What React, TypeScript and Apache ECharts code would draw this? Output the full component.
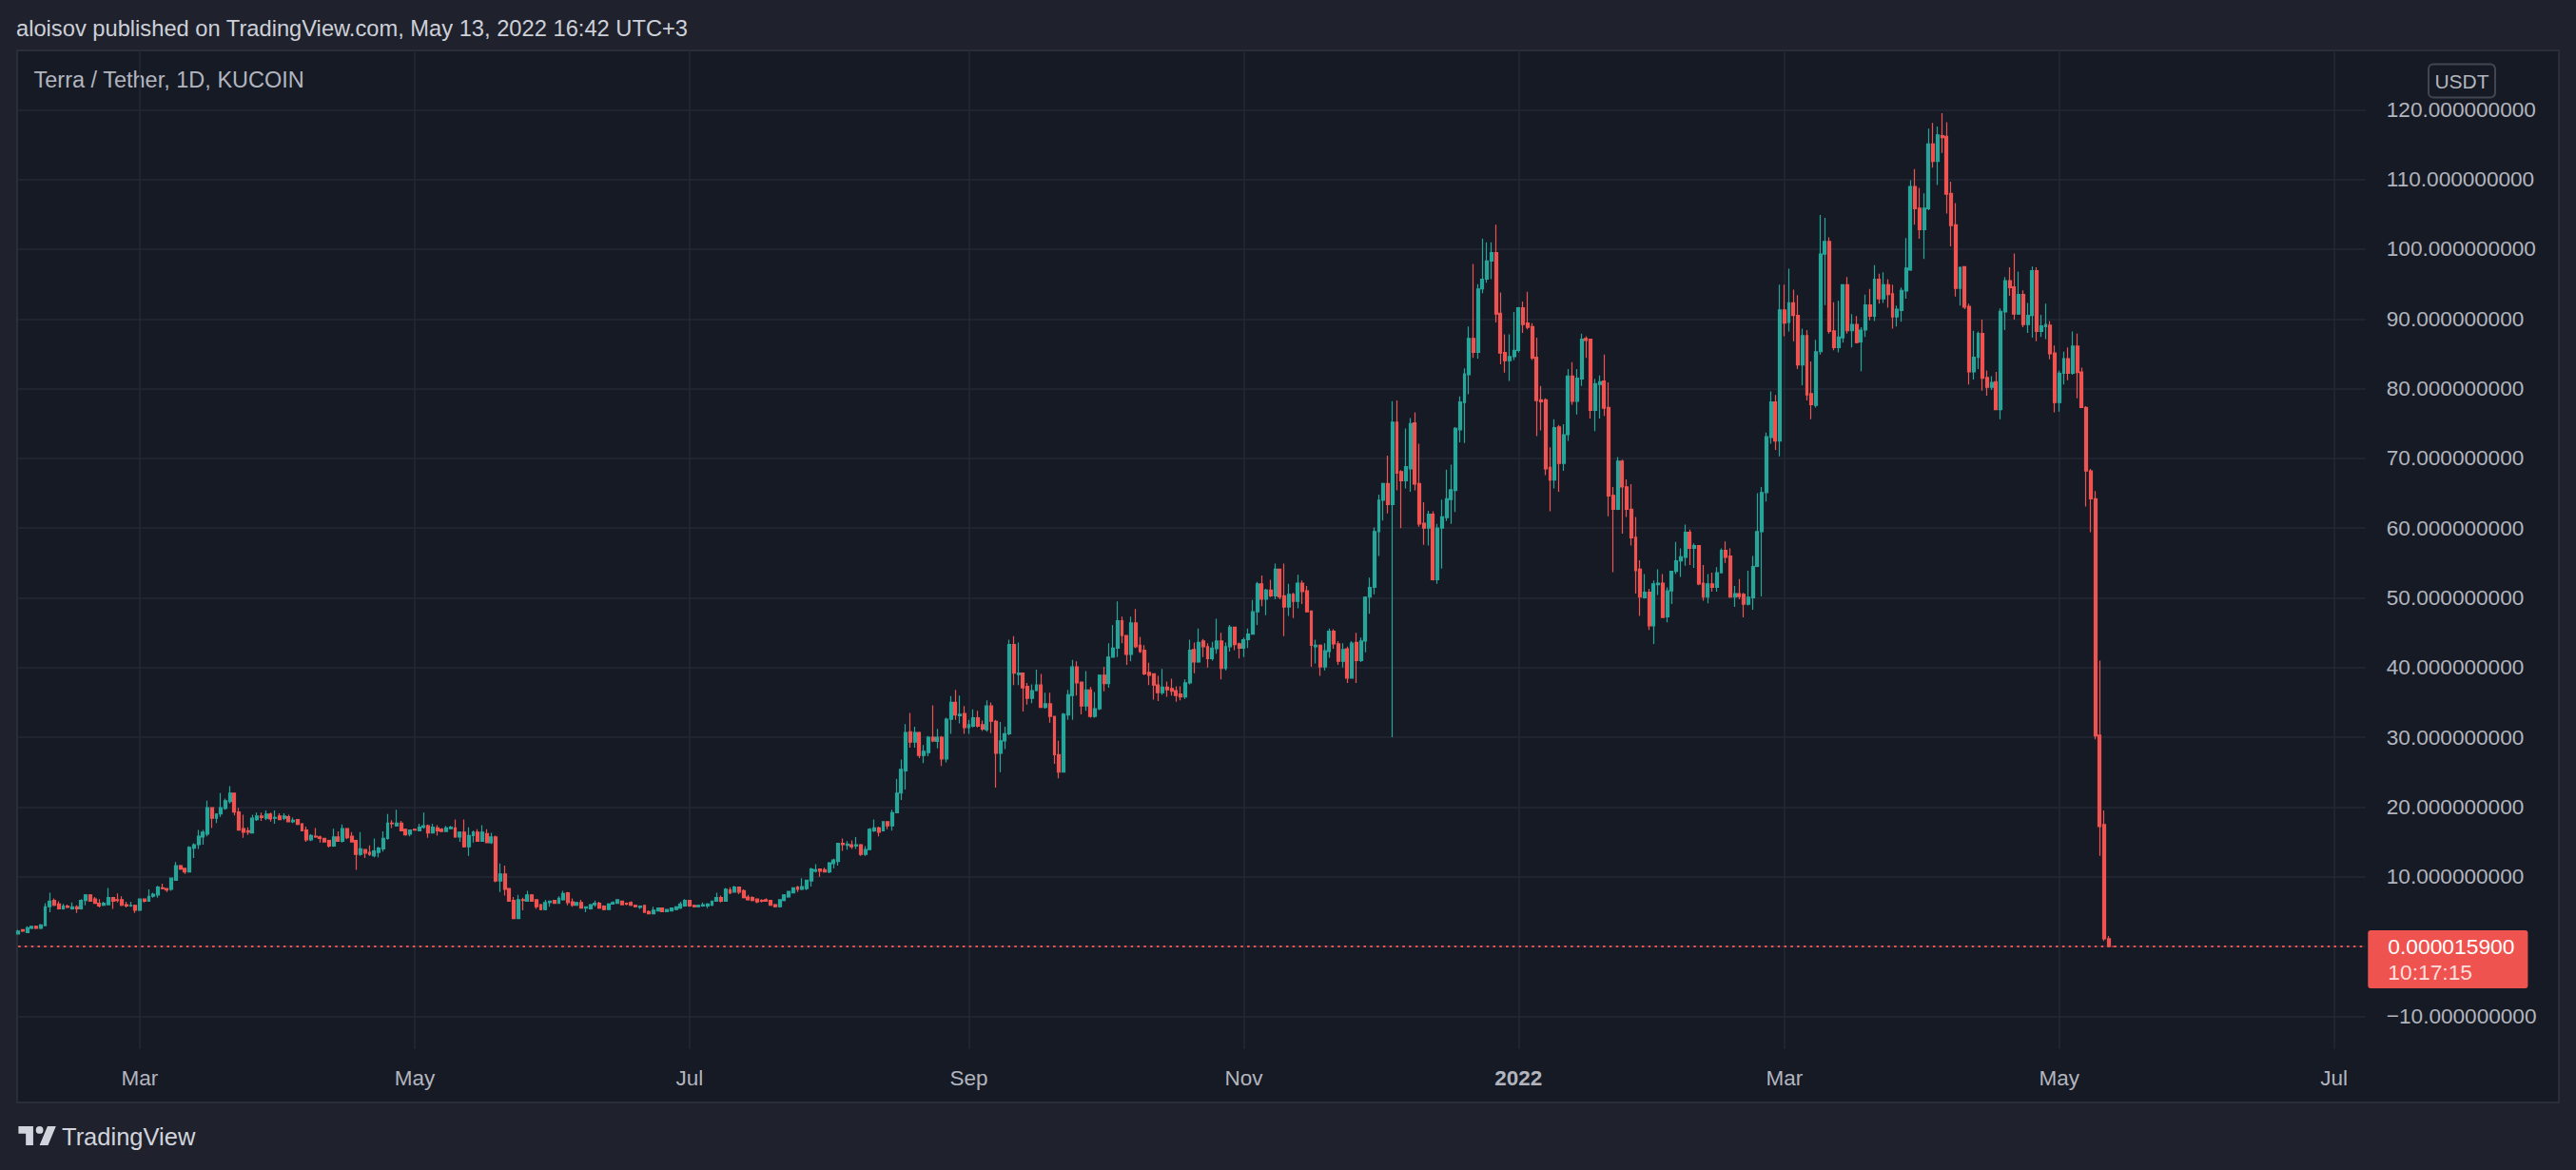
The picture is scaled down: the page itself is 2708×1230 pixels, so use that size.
import React, { useEffect, useRef } from "react";
import * as echarts from "echarts";

// Daily candles, each row is [open, high, low, close] (USDT)
const FEB_2021 = [
  [1.8, 2.4, 1.7, 2.2], [2.4, 2.5, 2.1, 2.2], [2.0, 2.9, 1.9, 2.7], [2.6, 2.9, 2.5, 2.9], [2.9, 3.0, 2.5, 2.6],
  [2.6, 3.2, 2.5, 3.1], [3.0, 6.2, 2.9, 5.7], [5.7, 7.7, 4.9, 6.5], [6.6, 6.9, 5.8, 5.9], [6.1, 6.5, 5.3, 5.4],
  [5.4, 6.1, 5.3, 5.8], [5.8, 6.0, 5.5, 5.6], [5.4, 6.3, 5.3, 5.7], [5.7, 5.9, 4.8, 5.4], [5.4, 6.8, 5.3, 6.6],
  [6.6, 7.5, 5.9, 7.4], [7.4, 7.5, 6.4, 6.5], [6.8, 7.1, 6.1, 6.2], [6.2, 6.8, 5.6, 5.8], [5.9, 6.4, 5.8, 6.2],
  [6.0, 8.4, 5.9, 7.0], [7.0, 7.1, 5.4, 6.5], [6.7, 7.6, 6.3, 6.6], [6.7, 7.2, 5.8, 5.9], [6.0, 6.4, 5.6, 5.8],
  [5.8, 6.4, 5.7, 5.9], [5.9, 6.0, 4.8, 5.2],
];
const MAR_2021 = [
  [5.2, 6.9, 5.1, 6.8], [6.8, 6.9, 6.3, 6.5], [6.5, 8.2, 6.4, 7.2], [7.2, 7.7, 7.0, 7.5], [7.4, 8.7, 7.0, 8.5],
  [8.4, 9.0, 8.2, 8.3], [8.3, 8.4, 7.8, 8.1], [8.2, 9.9, 8.0, 9.8], [9.5, 12.1, 9.4, 11.6], [11.6, 11.7, 11.0, 11.1],
  [11.2, 11.3, 10.4, 10.7], [10.7, 14.4, 10.6, 14.2], [14.1, 14.8, 12.7, 14.6], [14.6, 16.7, 14.0, 15.8], [15.7, 16.7, 14.6, 16.4],
  [16.1, 20.9, 15.8, 19.9], [19.9, 20.0, 17.0, 18.4], [18.4, 19.1, 17.7, 19.0], [19.0, 22.0, 18.6, 19.9], [19.8, 21.2, 19.6, 20.9],
  [20.8, 23.0, 20.5, 22.0], [22.0, 22.0, 18.8, 19.3], [19.3, 19.9, 16.6, 16.7], [16.9, 18.9, 15.6, 16.4], [16.6, 17.1, 16.0, 16.4],
  [16.3, 18.9, 16.2, 18.4], [18.2, 19.2, 18.0, 18.7], [18.7, 19.2, 18.0, 18.5], [18.4, 19.5, 18.1, 19.0], [19.0, 19.2, 17.9, 18.3],
  [18.4, 19.5, 17.6, 18.5],
];
const APR_2021 = [
  [18.7, 19.1, 18.1, 18.2], [18.4, 19.1, 18.1, 18.7], [18.6, 18.9, 17.8, 17.9], [17.9, 18.5, 17.7, 18.1], [18.2, 18.3, 17.4, 17.5],
  [17.6, 17.7, 16.5, 16.6], [16.7, 17.2, 15.0, 15.3], [15.3, 16.1, 15.1, 15.9], [15.8, 17.0, 15.6, 15.7], [15.7, 15.9, 14.9, 15.5],
  [15.5, 15.6, 14.9, 15.0], [15.2, 15.3, 14.2, 14.4], [14.4, 16.9, 14.3, 15.7], [15.7, 16.5, 15.0, 15.1], [15.1, 17.5, 14.9, 16.9],
  [16.9, 17.0, 15.4, 15.6], [15.8, 16.4, 14.9, 15.0], [15.2, 15.3, 11.0, 13.2], [13.2, 16.4, 13.0, 14.0], [13.9, 14.0, 12.7, 13.4],
  [13.5, 14.5, 13.0, 13.2], [13.0, 15.5, 12.8, 13.7], [13.5, 14.3, 12.8, 14.1], [14.0, 16.5, 13.6, 15.5], [15.5, 19.0, 15.3, 17.7],
  [17.7, 18.1, 17.0, 17.6], [17.3, 19.6, 17.2, 17.7], [17.7, 18.0, 16.5, 16.6], [16.8, 16.9, 15.9, 16.0], [16.1, 16.7, 15.8, 16.7],
];
const MAY_2021 = [
  [16.8, 16.9, 16.6, 16.7], [16.6, 17.6, 16.5, 17.1], [17.1, 19.2, 16.9, 17.3], [17.3, 17.5, 15.6, 16.3], [16.3, 17.6, 16.2, 17.1],
  [17.0, 17.4, 15.9, 16.6], [16.8, 17.0, 16.4, 16.5], [16.5, 17.3, 16.4, 17.0], [16.9, 17.3, 16.8, 17.1], [17.0, 18.2, 15.6, 15.7],
  [15.7, 16.5, 15.0, 16.4], [16.4, 18.2, 14.2, 14.3], [14.3, 17.1, 13.0, 15.9], [15.9, 16.6, 14.9, 16.4], [16.4, 16.8, 15.1, 15.1],
  [15.1, 17.4, 15.0, 16.4], [16.2, 16.8, 14.8, 14.9], [14.9, 16.3, 14.7, 15.7], [15.7, 15.9, 9.2, 9.4], [9.4, 11.9, 7.8, 10.4],
  [10.4, 11.6, 7.3, 8.2], [8.3, 8.4, 6.5, 6.5], [6.6, 7.1, 4.0, 4.0], [4.0, 7.4, 4.0, 6.7], [6.7, 7.0, 5.2, 6.6],
  [6.5, 8.0, 6.4, 7.4], [7.4, 7.5, 6.4, 6.5], [6.7, 6.8, 5.4, 5.7], [6.0, 6.1, 5.2, 5.3], [5.3, 6.7, 5.2, 6.3],
  [6.3, 6.6, 5.7, 6.5],
];
const JUN_2021 = [
  [6.6, 6.7, 6.1, 6.2], [6.2, 7.2, 6.1, 6.9], [6.7, 8.0, 6.6, 7.6], [7.7, 7.8, 5.9, 6.3], [6.4, 6.9, 5.7, 5.9],
  [5.9, 6.4, 5.8, 6.3], [6.3, 6.7, 5.5, 5.5], [5.5, 5.7, 4.9, 5.7], [5.4, 6.1, 5.3, 6.0], [6.0, 6.6, 5.7, 6.2],
  [6.2, 6.4, 5.4, 5.5], [5.8, 5.9, 5.2, 5.3], [5.3, 6.2, 5.3, 6.1], [6.1, 6.5, 6.0, 6.3], [6.2, 6.8, 6.1, 6.7],
  [6.5, 6.6, 6.0, 6.0], [6.2, 6.3, 5.9, 6.1], [6.3, 6.5, 5.8, 5.9], [5.9, 6.0, 5.6, 5.7], [5.6, 5.9, 5.4, 5.8],
  [5.9, 5.9, 4.8, 4.9], [5.0, 5.2, 4.6, 4.7], [4.7, 5.7, 4.7, 5.2], [5.1, 5.6, 5.0, 5.5], [5.5, 5.6, 4.9, 5.0],
  [5.0, 5.4, 4.9, 5.3], [5.1, 5.6, 5.0, 5.5], [5.3, 5.8, 5.2, 5.7], [5.5, 6.4, 5.4, 6.1], [5.8, 6.8, 5.7, 6.6],
];
const JUL_2021 = [
  [6.6, 6.6, 5.7, 5.8], [5.9, 6.0, 5.6, 5.7], [5.7, 6.0, 5.6, 5.9], [5.8, 6.3, 5.7, 6.0], [5.8, 6.2, 5.5, 6.1],
  [5.9, 6.5, 5.8, 6.5], [6.5, 7.7, 6.4, 7.0], [7.0, 7.3, 6.3, 6.5], [6.5, 8.4, 6.4, 8.2], [8.1, 8.5, 7.5, 7.7],
  [7.8, 8.7, 7.7, 8.5], [8.5, 8.6, 7.5, 7.8], [8.0, 8.2, 6.9, 7.0], [7.1, 7.4, 6.6, 6.7], [7.0, 7.2, 6.5, 6.6],
  [6.8, 6.9, 6.2, 6.4], [6.6, 6.8, 6.3, 6.5], [6.7, 6.9, 6.4, 6.5], [6.6, 6.6, 5.9, 5.9], [6.0, 6.1, 5.6, 5.7],
  [5.7, 6.8, 5.6, 6.7], [6.6, 7.5, 6.5, 7.4], [7.1, 8.0, 7.0, 7.9], [7.7, 8.5, 7.6, 8.4], [8.5, 8.7, 7.8, 8.2],
  [8.2, 9.8, 8.1, 8.6], [8.3, 9.6, 8.1, 9.5], [9.4, 11.3, 8.6, 11.1], [10.8, 11.8, 10.6, 11.0], [11.1, 11.2, 10.0, 10.8],
  [11.0, 11.3, 10.6, 10.7],
];
const AUG_2021 = [
  [10.7, 12.1, 10.5, 12.0], [11.9, 12.6, 11.2, 12.4], [12.2, 14.8, 11.6, 14.8], [14.8, 15.5, 13.7, 14.6], [14.5, 15.1, 13.9, 14.7],
  [14.6, 15.2, 14.0, 14.3], [14.4, 15.7, 14.0, 14.6], [14.6, 14.7, 13.0, 13.2], [13.2, 14.4, 13.0, 13.9], [13.9, 17.0, 13.8, 16.8],
  [16.6, 18.2, 16.4, 17.0], [17.0, 17.2, 15.8, 16.4], [16.6, 17.9, 16.5, 17.9], [17.9, 17.9, 16.8, 17.3], [17.3, 19.6, 16.6, 19.2],
  [19.2, 24.0, 19.1, 22.0], [22.0, 26.8, 21.0, 25.4], [25.2, 31.9, 22.5, 30.7], [30.8, 33.5, 28.5, 29.3], [29.3, 31.5, 28.5, 30.7],
  [30.7, 30.8, 27.0, 27.4], [27.4, 28.9, 26.3, 28.0], [27.8, 30.2, 27.3, 30.0], [30.0, 34.6, 29.3, 29.5], [29.4, 31.2, 28.4, 30.0],
  [30.0, 30.2, 25.9, 26.9], [26.9, 32.8, 26.4, 32.6], [32.6, 35.9, 30.5, 35.0], [35.0, 36.8, 32.5, 33.2], [33.1, 36.0, 32.0, 33.3],
  [33.4, 34.5, 30.5, 31.4],
];
const SEP_2021 = [
  [31.4, 32.5, 30.5, 31.8], [31.6, 34.0, 31.4, 32.8], [32.8, 33.8, 31.4, 31.6], [31.8, 32.4, 30.9, 31.2], [31.1, 35.3, 30.8, 34.5],
  [34.5, 35.0, 30.6, 32.3], [32.3, 32.5, 22.8, 27.7], [27.7, 32.2, 25.0, 29.5], [29.5, 31.5, 28.3, 30.5], [30.5, 44.0, 30.3, 43.3],
  [43.3, 44.5, 37.5, 39.2], [39.0, 43.6, 37.5, 39.2], [39.2, 39.3, 33.7, 37.1], [37.3, 37.8, 34.7, 35.6], [35.6, 37.6, 34.9, 36.7],
  [36.7, 39.7, 36.6, 37.5], [37.5, 39.1, 34.2, 34.3], [34.3, 36.4, 34.1, 34.8], [34.8, 36.4, 32.1, 33.0], [33.0, 33.0, 26.2, 27.5],
  [27.5, 29.5, 24.1, 25.0], [25.0, 33.5, 25.0, 33.3], [33.2, 36.8, 32.5, 36.1], [36.0, 41.1, 32.5, 40.1], [40.1, 40.9, 36.0, 37.8],
  [37.9, 37.9, 33.3, 34.5], [34.5, 39.5, 33.8, 36.8], [36.8, 37.2, 32.8, 33.0], [33.0, 36.5, 32.8, 34.1], [34.1, 39.0, 33.9, 38.9],
];
const OCT_2021 = [
  [38.9, 40.1, 36.6, 37.7], [37.7, 43.5, 37.1, 41.5], [41.5, 46.1, 41.4, 42.8], [42.8, 49.5, 41.5, 46.7], [46.7, 47.3, 43.5, 44.6],
  [44.6, 44.6, 40.4, 41.9], [41.9, 47.3, 40.9, 46.4], [46.4, 48.4, 42.8, 43.0], [43.2, 44.4, 42.1, 42.3], [42.5, 43.2, 38.9, 39.1],
  [39.3, 40.7, 37.5, 38.9], [39.1, 39.1, 35.4, 37.5], [37.5, 38.8, 35.2, 36.4], [36.4, 39.8, 36.1, 37.2], [37.2, 38.0, 35.8, 36.8],
  [37.0, 38.4, 36.0, 36.6], [36.7, 37.3, 35.1, 36.0], [36.2, 37.3, 35.3, 35.8], [35.8, 38.3, 35.5, 37.8], [37.8, 44.0, 37.6, 42.5],
  [42.6, 43.6, 39.2, 40.8], [40.8, 45.6, 40.7, 43.6], [43.8, 44.1, 41.5, 43.0], [43.0, 43.5, 40.0, 41.3], [41.3, 43.7, 41.0, 42.8],
  [42.7, 47.0, 42.0, 43.8], [43.8, 45.0, 38.3, 39.9], [39.9, 43.6, 39.6, 43.0], [43.0, 46.1, 42.3, 45.8], [45.8, 45.8, 42.5, 43.3],
  [43.4, 43.6, 41.3, 42.8],
];
const NOV_2021 = [
  [42.8, 44.3, 41.5, 44.0], [44.0, 45.6, 42.8, 44.8], [44.8, 49.7, 44.7, 48.0], [48.0, 52.3, 46.1, 52.0], [52.0, 53.2, 48.8, 49.8],
  [49.8, 51.3, 47.5, 51.1], [51.1, 52.6, 50.1, 50.3], [50.3, 54.9, 49.8, 54.1], [54.1, 54.1, 49.8, 50.1], [50.3, 54.9, 44.5, 48.7],
  [48.7, 52.0, 47.4, 50.5], [50.5, 50.7, 47.1, 49.5], [49.5, 53.3, 48.5, 52.1], [52.1, 52.5, 49.1, 50.9], [51.0, 51.7, 48.0, 48.0],
  [48.1, 48.1, 40.1, 43.2], [43.0, 44.0, 40.6, 43.2], [43.2, 43.3, 38.8, 40.1], [40.1, 43.5, 39.6, 42.4], [42.3, 45.6, 41.4, 45.2],
  [45.2, 45.5, 42.7, 43.4], [43.4, 43.8, 40.4, 40.9], [40.9, 43.5, 40.0, 42.6], [42.7, 43.0, 37.8, 38.5], [38.5, 43.8, 38.5, 43.5],
  [43.6, 45.0, 37.8, 41.0], [41.0, 44.3, 40.8, 43.8], [43.8, 50.2, 42.2, 50.1], [50.1, 52.9, 47.7, 51.5], [51.5, 60.1, 50.5, 59.5],
];
const DEC_2021 = [
  [59.5, 64.8, 56.0, 64.0], [64.0, 66.5, 61.1, 66.4], [66.4, 70.4, 62.1, 63.4], [63.4, 78.2, 30.0, 75.2], [75.2, 78.3, 65.4, 67.9],
  [68.1, 68.3, 60.0, 66.8], [66.8, 74.3, 65.7, 68.8], [68.5, 75.8, 65.2, 75.0], [75.1, 76.6, 65.4, 66.3], [66.4, 72.1, 60.2, 60.6],
  [60.7, 63.7, 57.6, 60.0], [60.0, 62.5, 57.5, 62.0], [62.0, 62.4, 52.5, 52.6], [52.6, 60.6, 52.0, 60.0], [60.0, 64.1, 54.2, 61.6],
  [61.5, 68.4, 61.0, 64.2], [64.1, 69.1, 60.6, 65.5], [65.4, 74.5, 62.3, 74.3], [74.1, 78.9, 72.3, 78.1], [78.0, 82.9, 72.2, 82.1],
  [82.0, 88.9, 79.2, 87.2], [87.2, 97.9, 84.4, 85.2], [85.2, 95.0, 84.3, 94.3], [94.3, 101.5, 93.7, 95.7], [95.7, 101.0, 95.2, 98.3],
  [98.3, 101.0, 95.7, 99.5], [99.5, 103.5, 89.5, 90.7], [90.8, 93.8, 83.5, 85.1], [85.2, 87.8, 82.3, 84.0], [84.0, 87.8, 81.1, 84.6],
  [84.6, 91.0, 84.1, 85.5],
];
const JAN_2022 = [
  [85.5, 91.7, 85.2, 91.6], [91.6, 92.5, 88.0, 89.2], [89.4, 93.9, 88.5, 88.8], [88.9, 89.4, 84.1, 84.4], [84.5, 87.3, 73.2, 78.3],
  [78.4, 80.4, 74.0, 78.1], [78.4, 78.6, 67.6, 68.5], [68.7, 71.6, 62.4, 66.9], [66.9, 75.6, 65.7, 74.4], [74.5, 74.8, 65.2, 69.3],
  [69.3, 74.9, 68.2, 73.4], [73.4, 82.8, 72.5, 81.8], [81.8, 83.8, 77.7, 78.2], [78.2, 82.8, 76.3, 81.5], [81.4, 87.9, 80.4, 87.1],
  [87.2, 87.5, 84.4, 86.9], [87.1, 87.1, 75.7, 76.9], [76.9, 81.4, 73.9, 80.7], [80.6, 81.9, 75.7, 81.0], [81.1, 84.9, 76.1, 77.2],
  [77.3, 80.9, 61.7, 64.6], [64.7, 65.9, 53.7, 62.7], [62.7, 70.2, 62.6, 69.6], [69.6, 69.8, 59.2, 65.9], [65.9, 67.0, 61.6, 62.7],
  [62.7, 66.3, 57.5, 58.6], [58.7, 61.6, 50.6, 53.9], [54.1, 55.4, 47.4, 50.1], [50.0, 53.4, 49.9, 50.8], [50.8, 51.3, 45.4, 46.0],
  [46.0, 52.5, 43.4, 52.0],
];
const FEB_2022 = [
  [51.9, 54.1, 50.4, 52.1], [52.1, 53.4, 47.1, 47.2], [47.3, 51.5, 46.5, 51.0], [51.0, 53.8, 49.1, 53.8], [53.8, 58.0, 53.4, 55.3],
  [55.3, 57.1, 53.0, 55.9], [55.8, 60.5, 54.6, 59.4], [59.4, 59.8, 54.7, 57.1], [57.1, 57.8, 54.3, 57.5], [57.5, 57.5, 51.8, 52.0],
  [52.1, 54.7, 49.6, 50.1], [50.1, 53.4, 49.2, 52.0], [52.0, 53.6, 50.9, 51.5], [51.5, 54.4, 50.9, 53.6], [53.6, 57.1, 53.5, 56.8],
  [56.8, 58.1, 55.0, 55.8], [56.0, 57.1, 50.0, 50.1], [50.1, 51.7, 48.7, 50.6], [50.6, 52.7, 49.8, 50.2], [50.5, 50.7, 47.2, 49.1],
  [49.1, 53.9, 48.9, 50.1], [50.0, 56.0, 48.3, 54.5], [54.5, 65.0, 54.4, 59.5], [59.5, 65.9, 50.2, 65.1], [65.1, 73.7, 63.8, 73.1],
  [73.0, 79.6, 72.1, 78.1], [78.1, 79.1, 71.2, 72.5], [72.5, 94.9, 70.3, 91.3],
];
const MAR_2022 = [
  [91.3, 94.9, 87.5, 89.4], [89.5, 97.2, 88.2, 92.3], [92.3, 94.2, 86.8, 90.5], [90.5, 93.4, 82.8, 83.4], [83.4, 88.6, 80.5, 87.6],
  [87.6, 88.4, 78.3, 79.1], [79.3, 83.9, 75.6, 77.7], [77.6, 87.0, 77.3, 85.3], [85.3, 104.9, 84.9, 99.3], [99.3, 104.5, 92.0, 101.1],
  [101.1, 101.7, 87.9, 88.2], [88.3, 92.4, 85.5, 85.9], [85.9, 92.6, 85.2, 87.4], [87.3, 94.9, 86.6, 94.9], [94.9, 96.0, 87.9, 88.3],
  [88.3, 90.7, 85.9, 89.2], [89.2, 90.4, 86.5, 86.6], [86.7, 88.8, 82.5, 88.4], [88.4, 93.5, 87.4, 92.0], [92.0, 94.3, 89.8, 90.4],
  [90.4, 97.7, 89.7, 95.7], [95.7, 96.5, 92.2, 92.9], [92.9, 96.7, 92.3, 94.9], [94.9, 95.7, 91.6, 93.5], [93.6, 94.9, 88.6, 90.3],
  [90.3, 91.9, 88.9, 91.4], [91.2, 94.5, 89.6, 94.1], [94.0, 101.6, 92.9, 97.3], [97.0, 109.9, 96.9, 109.0], [109.0, 111.5, 103.5, 105.8],
  [105.9, 108.8, 101.5, 102.8],
];
const APR_2022 = [
  [102.8, 108.0, 98.6, 105.9], [105.8, 117.3, 105.6, 115.1], [115.1, 118.1, 111.7, 112.6], [112.6, 117.6, 109.2, 116.4], [116.3, 119.5, 113.8, 116.0],
  [116.2, 118.2, 105.1, 107.9], [108.0, 109.7, 100.4, 103.4], [103.5, 106.6, 93.2, 94.4], [94.4, 97.5, 91.9, 97.4], [97.5, 97.5, 91.4, 91.7],
  [91.8, 92.2, 80.6, 82.4], [82.4, 88.3, 81.3, 84.5], [84.5, 88.2, 82.8, 87.9], [87.9, 89.9, 79.7, 81.5], [81.6, 82.6, 79.0, 80.2],
  [80.2, 81.8, 79.8, 80.9], [81.0, 82.4, 77.0, 77.0], [77.0, 91.5, 75.6, 91.1], [91.0, 96.0, 88.4, 95.5], [95.5, 97.4, 93.3, 94.5],
  [94.6, 99.4, 89.9, 90.7], [90.7, 96.8, 90.6, 93.5], [93.5, 94.1, 88.8, 89.2], [89.2, 92.3, 88.0, 90.5], [90.5, 97.5, 87.3, 96.9],
  [96.9, 97.4, 86.8, 88.2], [88.2, 90.6, 87.4, 89.0], [88.9, 92.2, 87.1, 89.2], [89.1, 89.7, 84.2, 85.0], [85.1, 86.2, 76.6, 78.0],
];
const MAY_2022 = [
  [78.0, 82.6, 76.7, 82.2], [82.2, 85.3, 80.6, 84.3], [84.3, 85.9, 81.2, 82.2], [82.2, 88.2, 82.0, 86.1], [86.1, 87.9, 78.6, 82.3],
  [82.4, 83.0, 77.3, 77.3], [77.3, 77.5, 63.1, 68.2], [68.2, 68.5, 59.4, 64.2], [64.2, 65.3, 29.7, 30.2], [30.3, 41.0, 13.0, 17.2],
  [17.5, 19.5, 0.8, 1.1], [1.1, 1.5, 0.00001, 0.00003], [0.00003, 0.0001, 0.00001, 0.0000159],
];

const MONTHLY_CANDLES = [
  FEB_2021, MAR_2021, APR_2021, MAY_2021, JUN_2021, JUL_2021, AUG_2021, SEP_2021, OCT_2021, NOV_2021, DEC_2021,
  JAN_2022, FEB_2022, MAR_2022, APR_2022, MAY_2022,
];

const FIRST_CANDLE_DATE = "2021-02-02";
const AXIS_DAYS = 522; // the time scale runs on past the last candle, into July 2022
const PRICE_TICKS = [-10, 0, 10, 20, 30, 40, 50, 60, 70, 80, 90, 100, 110, 120];
const PRICE_RANGE = [-14.73, 128.51];
const MONTH_ABBR = ["Jan", "Feb", "Mar", "Apr", "May", "Jun", "Jul", "Aug", "Sep", "Oct", "Nov", "Dec"];
const LABELLED_MONTHS = [1, 3, 5, 7, 9, 11];
const LAST_PRICE_TEXT = "0.000015900";
const COUNTDOWN_TEXT = "10:17:15";
const HEADER_TEXT = "aloisov published on TradingView.com, May 13, 2022 16:42 UTC+3";
const SYMBOL_TEXT = "Terra / Tether, 1D, KUCOIN";
const CURRENCY_TEXT = "USDT";
const BRAND_TEXT = "TradingView";

const UP = "#26a69a";
const DOWN = "#ef5350";
const PANE_BG = "#161a25";
const OUTER_BG = "#1f222d";
const GRID_LINE = "#242834";
const TEXT = "#b2b5be";
const FONT = '"Liberation Sans", Arial, sans-serif';

const LOGO_PATH =
  "M0 4H14V22H7V11H0Z M16.5 7.5a3.5 3.5 0 1 0 7 0a3.5 3.5 0 1 0 -7 0Z M27.5 4H35.5L28 22H20Z";

let logoRegistered = false;

function buildDates(start: string, n: number): string[] {
  const [y, m, d] = start.split("-").map(Number);
  const t0 = Date.UTC(y, m - 1, d);
  const out: string[] = [];
  for (let i = 0; i < n; i++) out.push(new Date(t0 + i * 86400000).toISOString().slice(0, 10));
  return out;
}

function isMonthMark(value: string): boolean {
  if (value.slice(8, 10) !== "01") return false;
  return LABELLED_MONTHS.indexOf(Number(value.slice(5, 7))) >= 0;
}

export default function App() {
  const ref = useRef<HTMLDivElement>(null);

  useEffect(() => {
    if (!ref.current) return;
    if (!logoRegistered) {
      echarts.graphic.registerShape("tvlogo", echarts.graphic.extendPath(LOGO_PATH, {}));
      logoRegistered = true;
    }
    const chart = echarts.init(ref.current, undefined, { renderer: "svg" });

    const dates = buildDates(FIRST_CANDLE_DATE, AXIS_DAYS);
    const rows: number[][] = [];
    MONTHLY_CANDLES.forEach((month) => month.forEach((r) => rows.push(r)));
    // ECharts order: [open, close, lowest, highest]
    const candleData = rows.map(([o, h, l, c]) => [o, c, l, h]);
    const lastClose = rows[rows.length - 1][3];

    const interval = (_i: number, value: string) => isMonthMark(value);

    chart.setOption({
      animation: false,
      backgroundColor: PANE_BG,
      grid: { left: 19.1, right: 221.2, top: 53, bottom: 127, containLabel: false },
      xAxis: {
        type: "category",
        data: dates,
        boundaryGap: false,
        axisLine: { show: false },
        axisTick: { show: false },
        axisLabel: {
          interval,
          margin: 19,
          color: TEXT,
          fontSize: 22.5,
          fontFamily: FONT,
          formatter: (value: string) => {
            const m = Number(value.slice(5, 7));
            if (m === 1) return "{y|" + value.slice(0, 4) + "}";
            return MONTH_ABBR[m - 1];
          },
          rich: { y: { color: TEXT, fontSize: 22.5, fontFamily: FONT, fontWeight: "bold" } },
        },
        splitLine: { show: true, interval, lineStyle: { color: GRID_LINE, width: 1.5 } },
      },
      yAxis: {
        type: "value",
        position: "right",
        min: PRICE_RANGE[0],
        max: PRICE_RANGE[1],
        axisLine: { show: false },
        axisTick: { show: false, customValues: PRICE_TICKS },
        axisLabel: {
          customValues: PRICE_TICKS,
          margin: 22,
          color: TEXT,
          fontSize: 22.6,
          fontFamily: FONT,
          formatter: (v: number) => (v < 0 ? "\u2212" : "") + Math.abs(v).toFixed(9),
        },
        splitLine: { show: true, lineStyle: { color: GRID_LINE, width: 1.5 } },
      },
      series: [
        {
          type: "candlestick",
          data: candleData,
          barWidth: "72%",
          itemStyle: {
            color: UP,
            color0: DOWN,
            borderColor: UP,
            borderColor0: DOWN,
            borderWidth: 1.2,
          },
          markLine: {
            silent: true,
            symbol: ["none", "none"],
            label: { show: false },
            lineStyle: { color: DOWN, type: [2.5, 4.3], width: 2 },
            data: [{ yAxis: lastClose }],
          },
          markPoint: {
            silent: true,
            data: [
              {
                coord: [dates[dates.length - 1], lastClose],
                symbol: "rect",
                symbolSize: 1,
                itemStyle: { color: "rgba(0,0,0,0)" },
                label: {
                  show: true,
                  position: "right",
                  distance: 2,
                  offset: [0, 13.5],
                  formatter: "{p|" + LAST_PRICE_TEXT + "}\n{t|" + COUNTDOWN_TEXT + "}",
                  backgroundColor: DOWN,
                  padding: [3, 14, 3, 21],
                  borderRadius: 3,
                  rich: {
                    p: { color: "#ffffff", fontSize: 22.8, fontFamily: FONT, lineHeight: 27.5 },
                    t: { color: "rgba(255,255,255,0.82)", fontSize: 22.8, fontFamily: FONT, lineHeight: 27.5 },
                  },
                },
              },
            ],
          },
        },
      ],
      graphic: {
        elements: [
          { type: "rect", silent: true, shape: { x: 0, y: 0, width: 2708, height: 52 }, style: { fill: OUTER_BG } },
          { type: "rect", silent: true, shape: { x: 0, y: 1160, width: 2708, height: 70 }, style: { fill: OUTER_BG } },
          { type: "rect", silent: true, shape: { x: 0, y: 0, width: 17, height: 1230 }, style: { fill: OUTER_BG } },
          { type: "rect", silent: true, shape: { x: 2691, y: 0, width: 17, height: 1230 }, style: { fill: OUTER_BG } },
          {
            type: "rect",
            silent: true,
            shape: { x: 18, y: 53, width: 2672, height: 1106 },
            style: { fill: "rgba(0,0,0,0)", stroke: "#2a2e39", lineWidth: 2 },
          },
          {
            type: "text",
            x: 17,
            y: 29.5,
            style: {
              text: HEADER_TEXT, fill: "#cdd0d8", fontSize: 23.7, fontFamily: FONT,
              align: "left", verticalAlign: "middle", textAlign: "left", textVerticalAlign: "middle",
            },
          },
          {
            type: "text",
            x: 35.5,
            y: 84,
            style: {
              text: SYMBOL_TEXT, fill: TEXT, fontSize: 23.5, fontFamily: FONT,
              align: "left", verticalAlign: "middle", textAlign: "left", textVerticalAlign: "middle",
            },
          },
          {
            type: "rect",
            silent: true,
            shape: { x: 2553, y: 67.5, width: 70, height: 35, r: 5 },
            style: { fill: "rgba(0,0,0,0)", stroke: "#434651", lineWidth: 2 },
          },
          {
            type: "text",
            x: 2588,
            y: 85.5,
            style: {
              text: CURRENCY_TEXT, fill: TEXT, fontSize: 21, fontFamily: FONT,
              align: "center", verticalAlign: "middle", textAlign: "center", textVerticalAlign: "middle",
            },
          },
          {
            type: "tvlogo",
            x: 19.4,
            y: 1184 - 4 * 1.11,
            scaleX: 1.11,
            scaleY: 1.11,
            style: { fill: "#d1d4dc" },
          },
          {
            type: "text",
            x: 65,
            y: 1194.5,
            style: {
              text: BRAND_TEXT, fill: "#d1d4dc", fontSize: 25.5, fontFamily: FONT,
              align: "left", verticalAlign: "middle", textAlign: "left", textVerticalAlign: "middle",
            },
          },
        ],
      },
    });

    return () => chart.dispose();
  }, []);

  return (
    <div
      ref={ref}
      style={{ position: "fixed", left: 0, top: 0, width: "2708px", height: "1230px" }}
    />
  );
}
